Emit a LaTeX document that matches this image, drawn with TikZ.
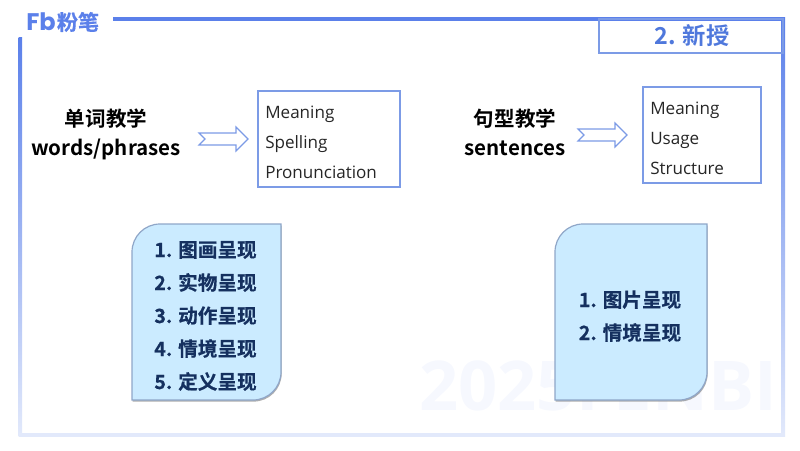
\documentclass[tikz,border=0pt]{standalone}
\usepackage{fontspec}
\setmainfont{Open Sans}
\newfontfamily\cjk{Noto Sans CJK SC}[BoldFont={Noto Sans CJK SC Bold}]
\newfontfamily\cjkheavy{Noto Sans CJK SC Bold}[FakeBold=0.6]
\newfontfamily\logofont{Poppins}
\usetikzlibrary{shadows}
\definecolor{frameblue}{HTML}{5B80EA}
\definecolor{framepale}{HTML}{E2E9FB}
\definecolor{boxline}{HTML}{7C9BE6}
\definecolor{listfill}{HTML}{CBEBFF}
\definecolor{listline}{HTML}{8FA6C8}
\definecolor{listtext}{HTML}{15305F}
\definecolor{titleblue}{HTML}{4F78DC}
\definecolor{markpale}{HTML}{F6F8FE}
\tikzset{
    heading/.style={font=\cjk\bfseries\fontsize{15.4}{18}\selectfont,text=black,anchor=base,inner sep=0pt},
    wordline/.style={anchor=base west,font=\fontsize{12.8}{16}\selectfont,text=black!85,inner sep=0pt},
    listline/.style={anchor=base,font=\cjkheavy\fontsize{14.7}{18}\selectfont,text=listtext,inner sep=0pt},
    listbox/.style={draw=listline,fill=listfill,line width=0.9pt,
        drop shadow={shadow xshift=0.5pt,shadow yshift=-1.2pt,opacity=0.45,fill=black!70}},
    wordbox/.style={draw=boxline,line width=0.9pt,fill=white},
    blockarrow/.style={draw=boxline,line width=0.9pt,fill=white},
    pics/notcharrow/.style={code={
        \draw[blockarrow] (0,-6) -- (37,-6) -- (37,-12) -- (49,0) -- (37,12) -- (37,6)
            -- (0,6) -- (6,0) -- cycle;
    }}
}
\begin{document}
\begin{tikzpicture}[x=0.75pt,y=-0.75pt]
        \useasboundingbox (0,0) rectangle (800,450);

        % watermark
        \node[inner sep=0pt,text=markpale,font=\bfseries\fontsize{51.5}{54}\selectfont] (W) at (598,386) {2025FENBI};

        % frame
        \fill[frameblue] (113,17) rectangle (785,20.5);
        \shade[top color=frameblue,bottom color=framepale] (18.5,37) rectangle (22,436);
        \shade[top color=frameblue,bottom color=framepale] (781.5,17) rectangle (785,436);
        \fill[framepale] (18.5,433) rectangle (785,436.5);

        % logo
        \node[inner sep=0pt,text=frameblue,font=\logofont\bfseries\fontsize{18}{20}\selectfont] (F) at (41,22) {Fb};
        \node[inner sep=0pt,text=frameblue,font=\cjkheavy\fontsize{15.8}{18}\selectfont] (L) at (78,22) {粉笔};

        % section tag
        \draw[boxline,line width=0.9pt] (599,19) rectangle (783,53);
        \node[inner sep=0pt,text=titleblue,font=\cjk\bfseries\fontsize{17.5}{20}\selectfont] (T) at (692,36) {2. 新授};

        % left column
        \begin{scope}[every node/.style={heading}]
            \node (A) at (106,126) {单词教学};
            \node (B) at (106,155) {words/phrases};
        \end{scope}
        \pic at (199,139) {notcharrow};
        \draw[wordbox] (258,91) rectangle (400,187);
        \begin{scope}[every node/.style={wordline}]
            \node (A1) at (265,118) {Meaning};
            \node (A2) at (265,148) {Spelling};
            \node (A3) at (265,178) {Pronunciation};
        \end{scope}

        % right column
        \begin{scope}[every node/.style={heading}]
            \node (C) at (515,126) {句型教学};
            \node (D) at (515,155) {sentences};
        \end{scope}
        \pic at (578,135) {notcharrow};
        \draw[wordbox] (643,87) rectangle (761,183);
        \begin{scope}[every node/.style={wordline}]
            \node (C1) at (650,114) {Meaning};
            \node (C2) at (650,144) {Usage};
            \node (C3) at (650,174) {Structure};
        \end{scope}

        % method boxes
        \draw[listbox] (132,252) arc[start angle=180,end angle=270,radius=28]
            -- (281,224) -- (281,372) arc[start angle=0,end angle=90,radius=28]
            -- (132,400) -- cycle;
        \draw[listbox] (555,252) arc[start angle=180,end angle=270,radius=28]
            -- (707,224) -- (707,372) arc[start angle=0,end angle=90,radius=28]
            -- (555,400) -- cycle;
        \begin{scope}[every node/.style={listline}]
            \node (M1) at (205.5,257) {1. 图画呈现};
            \node (M2) at (205.5,290) {2. 实物呈现};
            \node (M3) at (205.5,323) {3. 动作呈现};
            \node (M4) at (205.5,356) {4. 情境呈现};
            \node (M5) at (205.5,389) {5. 定义呈现};
            \node (N1) at (630,307) {1. 图片呈现};
            \node (N2) at (630,340) {2. 情境呈现};
        \end{scope}
    \end{tikzpicture}
\end{document}
